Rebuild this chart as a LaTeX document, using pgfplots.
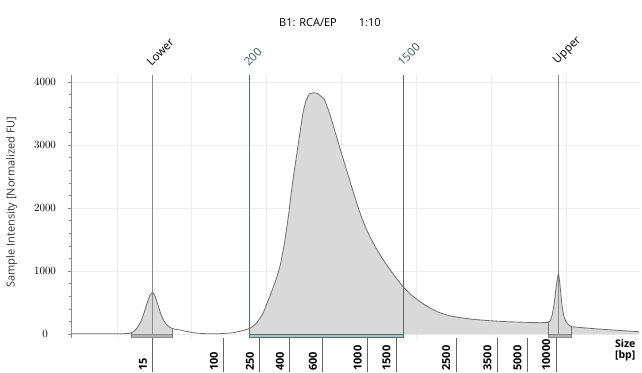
\documentclass[border=0pt]{standalone}
\usepackage{graphicx}
\usepackage{pgfplots}
\pgfplotsset{compat=1.18}
\usepgfplotslibrary{fillbetween}
\usepackage{fontspec}
\setmainfont{Open Sans}
\definecolor{fillgray}{HTML}{D9D9D9}
\definecolor{curvegray}{HTML}{6E6E6E}
\definecolor{markgray}{HTML}{8A8A8A}
\definecolor{markteal}{HTML}{4F6F70}
\definecolor{labteal}{HTML}{2F5F5F}
\pgfplotstableread{
x y
71 5
100 5
125 6
130 12
133 30
137 90
141 200
144 331
147 480
150 610
152.7 662
155 610
158 470
160.7 331
164 210
168 130
172.7 85
180 65
187 40
195 18
205 6
220 5
233 21
242 50
250 90
256.7 170
263.3 330
270 590
276.7 880
281 1120
285 1460
289 1900
293.3 2444
298.3 2973
303.3 3503
306.7 3714
310 3810
315 3830
318 3815
321 3780
325 3714
330 3503
335 3240
340 2973
345 2710
350 2450
355 2190
360 1945
365 1735
370 1560
376 1380
383 1195
390 1035
397 885
404 745
412 620
420 520
430 420
440 340
450 292
460 262
473 235
490 212
507 196
525 187
540 180
549 185
551 210
553 300
555 480
557 750
559.3 963
561 750
562.7 480
564.5 300
567 190
570 140
572 118
580 105
595 85
610 68
625 52
640 37
}\curvedata
\begin{document}
\begin{tikzpicture}
\path (0,0) rectangle (642pt,372pt);
\begin{axis}[
  at={(71pt,34pt)}, anchor=south west,
  scale only axis, width=569pt, height=263pt,
  xmin=71, xmax=641, ymin=-63, ymax=4111,
  clip=false,
  axis lines*=left,
  x axis line style={draw=none},
  y axis line style={draw=black!45, line width=0.8pt},
  xtick={117,192,267,342,417,492,567},
  xticklabels={},
  xtick style={draw=none},
  xmajorgrids, ymajorgrids,
  major grid style={draw=black!7, line width=0.6pt},
  ytick={0,1000,2000,3000,4000},
  minor y tick num=4,
  ytick align=outside,
  ytick style={draw=black!45, line width=0.6pt},
  major tick length=3pt, minor tick length=2pt,
  /pgf/number format/1000 sep={},
  yticklabel style={font=\bfseries\fontsize{11}{12}\selectfont, anchor=center, xshift=-23pt},
  extra x ticks={152.7,224,260,290,323,368,396.7,456.7,498,528,556.7},
  extra x tick labels={15,100,250,400,600,1000,1500,2500,3500,5000,10000},
  extra x tick style={grid=none, xtick align=outside, major tick length=34pt,
     xtick style={draw=black!60, line width=0.7pt},
     xticklabel style={font=\bfseries\fontsize{11}{12}\selectfont, xshift=-5.5pt, yshift=1pt, rotate=90, anchor=south west, inner sep=0pt}},
  ylabel={Sample Intensity [Normalized FU]},
  ylabel style={at={(axis description cs:-0.104,0.517)}, anchor=center, font=\fontsize{11}{12}\selectfont, text=black!80},
  xlabel={Size\\[-1pt][bp]},
  xlabel style={at={(axis description cs:0.974,-0.046)}, anchor=center, align=center, font=\bfseries\fontsize{10.5}{12}\selectfont},
  title={B1: RCA/EP\quad\quad 1:10},
  title style={at={(axis description cs:0.455,1.176)}, anchor=center, font=\fontsize{11}{12}\selectfont, text=black},
]
% marker lines Lower / Upper (under fill)
\addplot[draw=markgray, line width=0.9pt] coordinates {(152.7,0) (152.7,4111)};
\addplot[draw=markgray, line width=0.9pt] coordinates {(559.3,0) (559.3,4111)};
% curve path
\addplot[name path=curve, draw=none, smooth, tension=0.3] table[x=x,y=y] {\curvedata};
\addplot[name path=base, draw=none] coordinates {(71,0) (641,0)};
\addplot[fill=fillgray, draw=none] fill between[of=curve and base, soft clip={domain=131.7:172.7}];
\addplot[fill=fillgray, draw=none] fill between[of=curve and base, soft clip={domain=250:640}];
% region borders
\addplot[fill=black!30, draw=black!45, line width=0.4pt] coordinates {(131.7,0) (131.7,-50) (172.7,-50) (172.7,0)} -- cycle;
\addplot[draw=black!55, line width=0.8pt] coordinates {(131.7,-50) (131.7,14)};
\addplot[draw=black!55, line width=0.8pt] coordinates {(172.7,-50) (172.7,85)};
\addplot[fill=markteal!45, draw=markteal, line width=0.4pt] coordinates {(250,0) (250,-50) (404,-50) (404,0)} -- cycle;
\addplot[fill=black!30, draw=black!45, line width=0.4pt] coordinates {(549,0) (549,-50) (572,-50) (572,0)} -- cycle;
\addplot[draw=black!55, line width=0.8pt] coordinates {(549,-50) (549,185)};
\addplot[draw=black!55, line width=0.8pt] coordinates {(572,-50) (572,118)};
% 200 / 1500 lines
\addplot[draw=markteal, line width=1pt] coordinates {(250,-50) (250,4111)};
\addplot[draw=markteal, line width=1pt] coordinates {(404,-50) (404,4111)};
% curve line
\addplot[draw=curvegray, line width=0.8pt, smooth, tension=0.3] table[x=x,y=y] {\curvedata};
\coordinate (pLower) at (axis cs:152.7,4111);
\coordinate (p200) at (axis cs:250,4111);
\coordinate (p1500) at (axis cs:404,4111);
\coordinate (pUpper) at (axis cs:559.3,4111);
\end{axis}
\begin{scope}[every node/.style={anchor=south west, inner sep=0pt, font=\fontsize{11.5}{13}\selectfont}]
\node[xshift=-7pt, yshift=8pt] at (pLower) {\rotatebox{45}{Lower}};
\node[xshift=-7pt, yshift=8pt, text=labteal] at (p200) {\rotatebox{45}{200}};
\node[xshift=-7pt, yshift=8pt, text=labteal] at (p1500) {\rotatebox{45}{1500}};
\node[xshift=-7pt, yshift=8pt] at (pUpper) {\rotatebox{45}{Upper}};
\end{scope}
\end{tikzpicture}
\end{document}
